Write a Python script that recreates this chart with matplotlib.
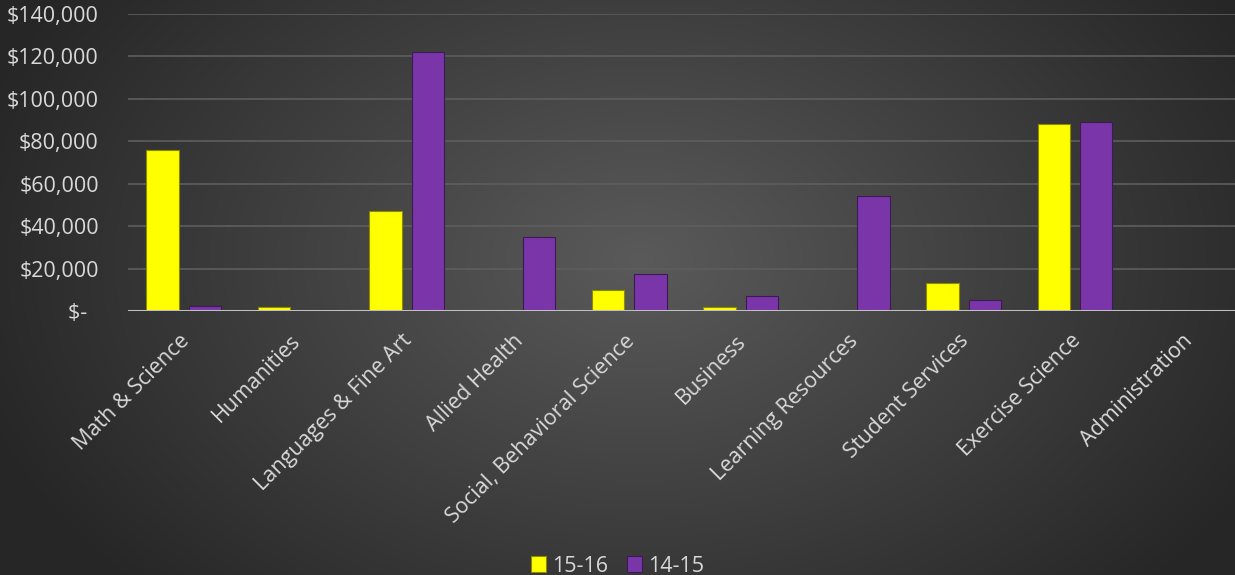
import numpy as np
import matplotlib
matplotlib.use("Agg")
import matplotlib.pyplot as plt
from matplotlib.transforms import ScaledTranslation

categories = ["Math & Science", "Humanities", "Languages & Fine Art", "Allied Health",
              "Social, Behavioral Science", "Business", "Learning Resources",
              "Student Services", "Exercise Science", "Administration"]
series_names = ["15-16", "14-15"]
values_1516 = [76000, 2000, 47000, 500, 10000, 2000, 0, 13000, 88000, 0]
values_1415 = [2300, 500, 122000, 35000, 17500, 7000, 54000, 5000, 89000, 0]
y_ticks = [0, 20000, 40000, 60000, 80000, 100000, 120000, 140000]

plt.rcParams['font.family'] = ['Open Sans', 'DejaVu Sans']

W, H = 1235, 575
fig = plt.figure(figsize=(W / 100, H / 100), dpi=100)

# radial gradient background
bg = fig.add_axes([0, 0, 1, 1], zorder=-10)
yy, xx = np.mgrid[0:H, 0:W]
cx, cy = 640, 260
d = np.sqrt(((xx - cx) / 700.0) ** 2 + ((yy - cy) / 480.0) ** 2)
d = np.clip(d, 0, 1)
c0 = np.array([0x5a, 0x5a, 0x5a]) / 255.0
c1 = np.array([0x26, 0x26, 0x26]) / 255.0
img = c0[None, None, :] * (1 - d[..., None]) + c1[None, None, :] * d[..., None]
bg.imshow(img, aspect='auto', extent=[0, 1, 0, 1], origin='upper')
bg.axis('off')

left = 128 / W
ax = fig.add_axes([left, 1 - 311 / H, 1 - left, (311 - 14) / H])
ax.patch.set_alpha(0)

x = np.arange(len(categories))
width = 0.29
off = 0.19
yellow = '#ffff00'
purple = '#7a35a8'
b1 = ax.bar(x - off, values_1516, width, color=yellow, edgecolor='#8c8c00', linewidth=0.8, zorder=3, label=series_names[0])
b2 = ax.bar(x + off, values_1415, width, color=purple, edgecolor='#3d1a55', linewidth=0.8, zorder=3, label=series_names[1])

ax.set_xlim(-0.5, (W - 182) / 111.6)
ax.set_ylim(0, 140000)
ax.set_yticks(y_ticks)
ax.set_yticklabels(["$-  "] + ["${:,.0f}".format(v) for v in y_ticks[1:]])
ax.yaxis.grid(True, color='#5e5e5e', linewidth=1.2, zorder=0)
ax.set_axisbelow(True)
ax.axhline(0, color='#c0c0c0', linewidth=2.2, zorder=4)
for s in ax.spines.values():
    s.set_visible(False)
ax.tick_params(axis='y', length=0, pad=21, labelsize=15.5, labelcolor='#d9d9d9')
ax.tick_params(axis='x', length=0, pad=14, labelsize=15.5, labelcolor='#d9d9d9')
ax.set_xticks(x)
ax.set_xticklabels(categories, rotation=45, ha='right', rotation_mode='anchor')
shift = ScaledTranslation(-5 / 100, 0, fig.dpi_scale_trans)
for lbl in ax.get_xticklabels():
    lbl.set_transform(lbl.get_transform() + shift)

leg = fig.legend(handles=[b1, b2], labels=series_names, loc='center', bbox_to_anchor=(0.5, 1 - 566 / H),
                 ncol=2, frameon=False, fontsize=15.5, labelcolor='#d9d9d9', handlelength=0.7,
                 handleheight=0.7, handletextpad=0.25, columnspacing=0.9)

fig.savefig("out.png", dpi=100)
